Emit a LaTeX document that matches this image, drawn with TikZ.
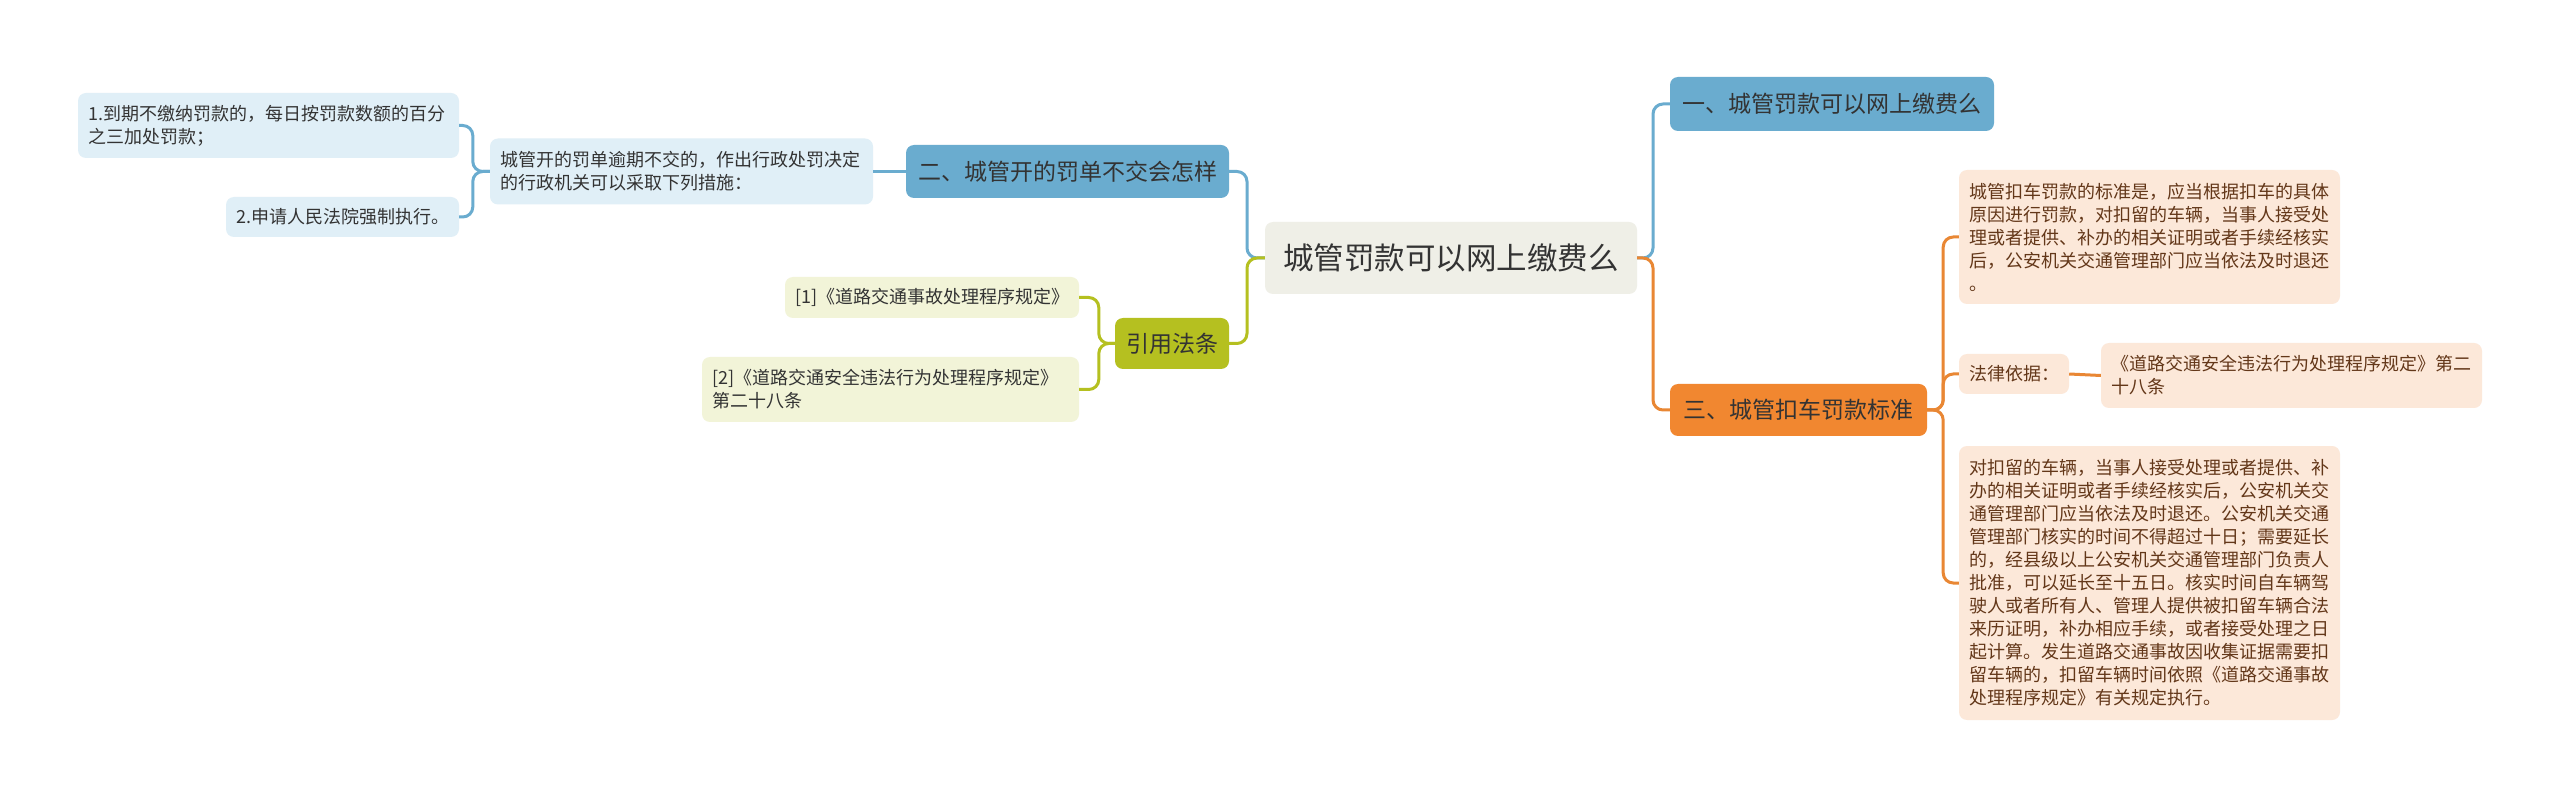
\documentclass[tikz,border=0pt]{standalone}
\usepackage{fontspec}
\newfontfamily\cjk{Noto Sans CJK SC}
\definecolor{blueN}{RGB}{106,172,207}
\definecolor{lightblue}{RGB}{224,239,247}
\definecolor{rootfill}{RGB}{239,239,231}
\definecolor{orangeN}{RGB}{241,135,48}
\definecolor{orangeL}{RGB}{233,135,52}
\definecolor{peach}{RGB}{252,232,217}
\definecolor{peachtext}{RGB}{99,55,25}
\definecolor{oliveN}{RGB}{181,192,32}
\definecolor{lightolive}{RGB}{242,244,216}
\definecolor{txt}{RGB}{51,51,51}
\tikzset{
  box/.style={rounded corners=8, inner sep=0pt, anchor=center, text=txt},
  rootbox/.style={box, fill=rootfill, font=\cjk\fontsize{30.5}{36}\selectfont},
  lvlone/.style={box, font=\cjk\fontsize{23}{28}\selectfont, align=center},
  lvltwo/.style={box, font=\cjk\fontsize{18}{23}\selectfont, align=left},
  blueline/.style={draw=blueN, line width=3pt, rounded corners=10},
  orangeline/.style={draw=orangeL, line width=3pt, rounded corners=10},
  oliveline/.style={draw=oliveN, line width=3pt, rounded corners=10},
}
\begin{document}
\begin{tikzpicture}[x=1pt,y=-1pt]
\useasboundingbox[fill=white] (0,0) rectangle (2560,799);

% root
\node[rootbox, minimum width=372, minimum height=72] (root) at (1451,258) {城管罚款可以网上缴费么};

% level one
\node[lvlone, fill=blueN, minimum width=324, minimum height=54] (n1) at (1832,104) {一、城管罚款可以网上缴费么};
\node[lvlone, fill=blueN, minimum width=323, minimum height=53] (n2) at (1067.5,171.5) {二、城管开的罚单不交会怎样};
\node[lvlone, fill=orangeN, minimum width=257, minimum height=52] (n3) at (1798.5,410) {三、城管扣车罚款标准};
\node[lvlone, fill=oliveN, minimum width=114, minimum height=51] (cite) at (1172,343.5) {引用法条};

% branch two
\node[lvltwo, fill=lightblue, minimum width=383, minimum height=66, text width=362] (b) at (681.5,171.5) {城管开的罚单逾期不交的，作出行政处罚决定\\的行政机关可以采取下列措施：};
\node[lvltwo, fill=lightblue, minimum width=381, minimum height=65, text width=360] (a1) at (268.5,125.5) {1.到期不缴纳罚款的，每日按罚款数额的百分\\之三加处罚款；};
\node[lvltwo, fill=lightblue, minimum width=233, minimum height=40, text width=212] (a2) at (342.5,217) {2.申请人民法院强制执行。};

% citations
\node[lvltwo, fill=lightolive, minimum width=294, minimum height=41, text width=274] (c1) at (932,297.5) {[1]《道路交通事故处理程序规定》};
\node[lvltwo, fill=lightolive, minimum width=377, minimum height=65, text width=356] (c2) at (890.5,389.5) {[2]《道路交通安全违法行为处理程序规定》\\第二十八条};

% branch three
\node[lvltwo, fill=peach, text=peachtext, minimum width=381, minimum height=134, text width=360] (d1) at (2149.5,237) {城管扣车罚款的标准是，应当根据扣车的具体\\原因进行罚款，对扣留的车辆，当事人接受处\\理或者提供、补办的相关证明或者手续经核实\\后，公安机关交通管理部门应当依法及时退还\\。};
\node[lvltwo, fill=peach, text=peachtext, minimum width=110, minimum height=40, text width=90] (d2) at (2014,374) {法律依据：};
\node[lvltwo, fill=peach, text=peachtext, minimum width=381, minimum height=65, text width=360] (d3) at (2291.5,375.5) {《道路交通安全违法行为处理程序规定》第二\\十八条};
\node[lvltwo, fill=peach, text=peachtext, minimum width=381, minimum height=274, text width=360] (d4) at (2149.5,583) {对扣留的车辆，当事人接受处理或者提供、补\\办的相关证明或者手续经核实后，公安机关交\\通管理部门应当依法及时退还。公安机关交通\\管理部门核实的时间不得超过十日；需要延长\\的，经县级以上公安机关交通管理部门负责人\\批准，可以延长至十五日。核实时间自车辆驾\\驶人或者所有人、管理人提供被扣留车辆合法\\来历证明，补办相应手续，或者接受处理之日\\起计算。发生道路交通事故因收集证据需要扣\\留车辆的，扣留车辆时间依照《道路交通事故\\处理程序规定》有关规定执行。};

\coordinate (rl) at (1247,258);
\coordinate (rr) at (1653,258);

% connectors
\draw[blueline] (root.west) -- (rl) |- (n2.east);
\draw[oliveline] (root.west) -- (rl) |- (cite.east);
\draw[blueline] (root.east) -- (rr) |- (n1.west);
\draw[orangeline] (root.east) -- (rr) |- (n3.west);

\draw[blueline] (n2.west) -- (b.east);
\draw[blueline] (b.west) -- ++(-17,0) |- (a1.east);
\draw[blueline] (b.west) -- ++(-17,0) |- (a2.east);

\draw[oliveline] (cite.west) -- ++(-16,0) |- (c1.east);
\draw[oliveline] (cite.west) -- ++(-16,0) |- (c2.east);

\draw[orangeline] (n3.east) -- ++(16,0) |- (d1.west);
\draw[orangeline] (n3.east) -- ++(16,0) |- (d2.west);
\draw[orangeline] (n3.east) -- ++(16,0) |- (d4.west);
\draw[orangeline] (d2.east) -- (d3.west);
\end{tikzpicture}
\end{document}
